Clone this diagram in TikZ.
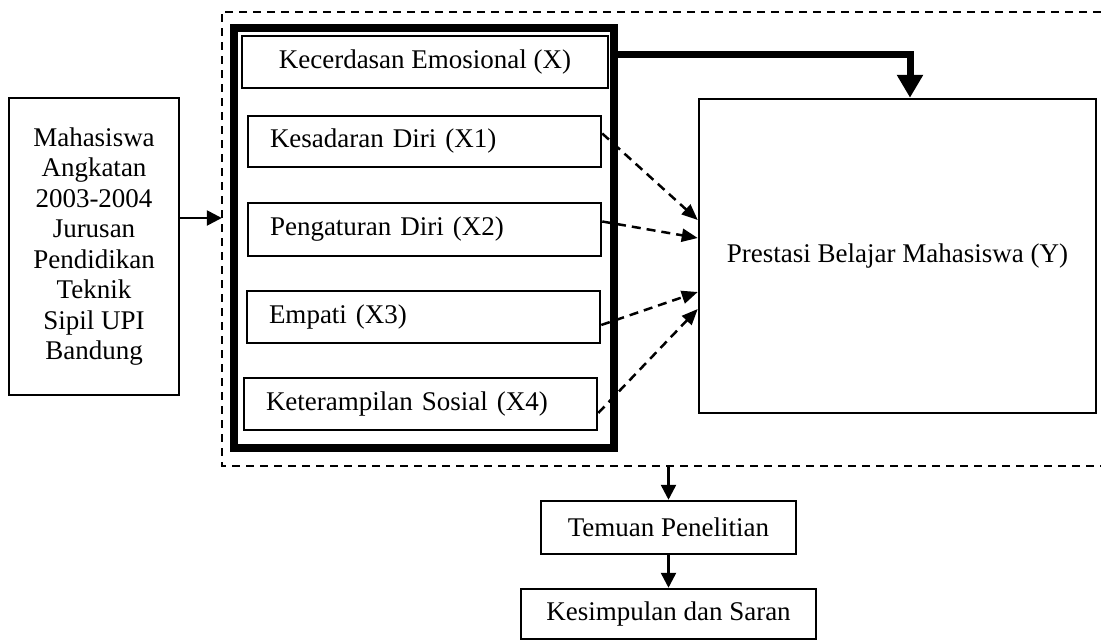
\documentclass[tikz,border=0pt]{standalone}
\usepackage{fontspec}
\setmainfont{Liberation Serif}
\usetikzlibrary{arrows.meta,calc}
\begin{document}
\begin{tikzpicture}[x=1pt,y=-1pt,
  every node/.style={font=\fontsize{27}{30.5}\selectfont},
  box/.style={draw,line width=2.5pt,inner sep=0pt,align=center},
  subbox/.style={draw,line width=2.5pt,inner ysep=0pt,inner xsep=22pt,text width=309pt,align=left,minimum height=52pt},
  arr/.style={line width=2.5pt,-{Triangle[length=15pt,width=15pt]}},
  darr/.style={line width=2.5pt,dash pattern=on 9pt off 6pt,-{Triangle[length=16pt,width=13pt]}},
  outline/.style={line width=2.5pt,dash pattern=on 8pt off 6pt},
  bigarr/.style={line width=7pt,-{Triangle[length=23pt,width=25pt]}}
]
\useasboundingbox (0,0) rectangle (1101,640);

% outer dashed frame (open on the right, cut by the page edge)
\node[minimum width=879pt,minimum height=454pt,inner sep=0pt] (outer) at (661.5,239) {};
\draw[outline] (outer.north east) -- (outer.north west) -- (outer.south west) -- (outer.south east);

% left box
\node[box,minimum width=170pt,minimum height=297pt] (mhs) at (94,246.5)
  {Mahasiswa\\Angkatan\\2003-2004\\Jurusan\\Pendidikan\\Teknik\\Sipil UPI\\Bandung};

% thick frame
\node[draw,line width=8pt,minimum width=380pt,minimum height=420pt,inner sep=0pt] (thick) at (424,238) {};

% inner boxes
\node[box,minimum width=366pt,minimum height=52pt] (kec) at (425,62) {Kecerdasan Emosional (X)};
\node[subbox,minimum height=51pt] (x1) at (424.5,141.5) {Kesadaran Diri (X1)};
\node[subbox,minimum height=53pt] (x2) at (424.5,229.5) {Pengaturan Diri (X2)};
\node[subbox] (x3) at (423.5,317) {Empati (X3)};
\node[subbox] (x4) at (420.5,404) {Keterampilan Sosial (X4)};

% outcome box
\node[box,minimum width=397pt,minimum height=314pt] (y) at (897.5,256) {Prestasi Belajar Mahasiswa (Y)};

% bottom boxes
\node[box,minimum width=255pt,minimum height=53pt] (tem) at (668.5,527.5) {Temuan Penelitian};
\node[box,minimum width=295pt,minimum height=50pt] (kes) at (668.5,614) {Kesimpulan dan Saran};

% connectors
\draw[arr] (mhs.east |- 0,218) -- (outer.west |- 0,218);
\draw[bigarr] (thick.east |- 0,54) -| (y.north -| 910,0);
\draw[darr] ($(x1.east)+(0,-8)$) -- (y.west |- 0,220);
\draw[darr] ($(x2.east)+(0,-8)$) -- (y.west |- 0,238);
\draw[darr] ($(x3.east)+(0,8)$) -- (y.west |- 0,292);
\draw[darr] ($(x4.east)+(0,9)$) -- (y.west |- 0,309);
\draw[arr] (outer.south -| tem.north) -- (tem.north);
\draw[arr] (tem.south) -- (kes.north);
\end{tikzpicture}
\end{document}
